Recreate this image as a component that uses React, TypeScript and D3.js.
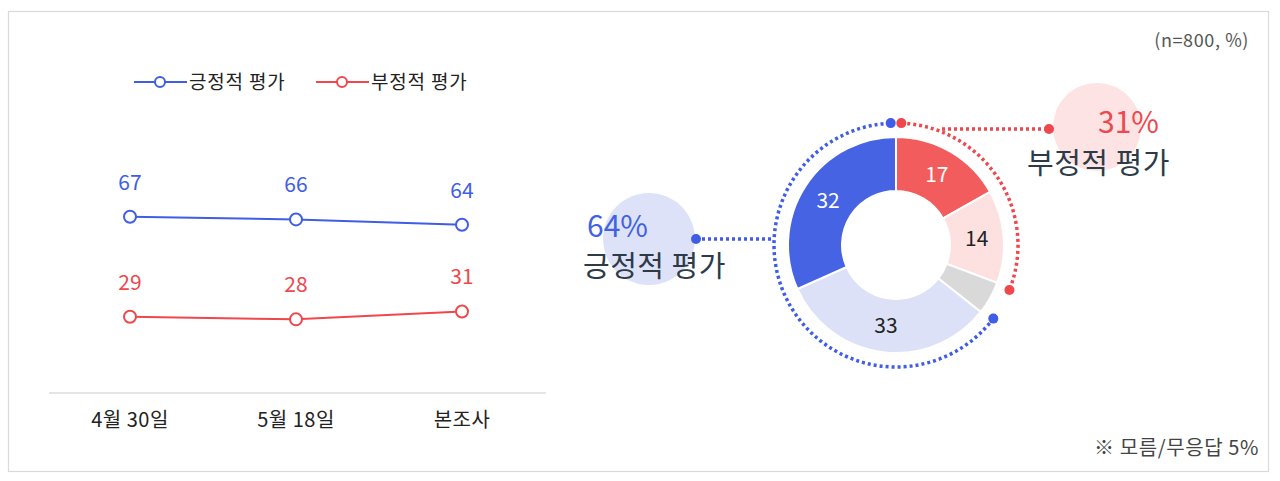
import React from "react";
import * as d3 from "d3";

// line chart data
const periods = ["4월 30일", "5월 18일", "본조사"];
const positive = [67, 66, 64];
const negative = [29, 28, 31];

// donut data (본조사 breakdown)
const donutLabels = ["매우 부정", "다소 부정", "모름/무응답", "다소 긍정", "매우 긍정"];
const donutValues = [17, 14, 5, 33, 32];
const donutShown = [true, true, false, true, true];

const posTotal = 64;
const negTotal = 31;
const unknownTotal = 5;

const BLUE = "#3f5de6";
const RED = "#f0474c";
const donutColors = ["#f35c5c", "#fde1e1", "#d9d9d9", "#dce1f8", "#4563e3"];
const donutTextColors = ["#fff", "#222", "#222", "#222", "#fff"];
const FONT = "'Noto Sans CJK KR', 'Noto Sans', sans-serif";

export default function App() {
  const x = d3.scalePoint<string>().domain(periods).range([130, 462]);
  const y = d3.scaleLinear().domain([0, 100]).range([393, 130]);

  const line = d3
    .line<number>()
    .x((_, i) => x(periods[i])!)
    .y((d) => y(d));

  const series = [
    { name: "긍정적 평가", values: positive, color: BLUE },
    { name: "부정적 평가", values: negative, color: RED },
  ];

  // donut
  const cx = 896;
  const cy = 245;
  const pie = d3.pie<number>().sort(null).value((d) => d);
  const arcs = pie(donutValues);
  const arc = d3.arc<d3.PieArcDatum<number>>().innerRadius(54).outerRadius(108);

  const ringR = 122;
  const deg = Math.PI / 180;
  const gap = 2.5 * deg;
  const redA0 = gap;
  const redA1 = (negTotal / 100) * 2 * Math.PI;
  const blueA0 = ((100 - posTotal) / 100) * 2 * Math.PI - gap;
  const blueA1 = 2 * Math.PI - gap;

  const ringPath = (a0: number, a1: number) => {
    const p = d3.path();
    p.arc(cx, cy, ringR, a0 - Math.PI / 2, a1 - Math.PI / 2, false);
    return p.toString();
  };
  const pt = (a: number) => [cx + ringR * Math.sin(a), cy - ringR * Math.cos(a)];

  const dotted = { fill: "none", strokeWidth: 3.5, strokeDasharray: "3 3" };

  return (
    <div style={{ position: "absolute", left: 0, top: 0 }}>
      <svg width={1280} height={481} style={{ display: "block", fontFamily: FONT }}>
        <rect x={8.5} y={11.5} width={1260} height={460} fill="#fff" stroke="#dadada" strokeWidth={1.2} />

        {/* legend */}
        {series.map((s, i) => {
          const lx = 134 + i * 182;
          return (
            <g key={s.name}>
              <line x1={lx} x2={lx + 53} y1={82} y2={82} stroke={s.color} strokeWidth={2} />
              <circle cx={lx + 26} cy={82} r={5} fill="#fff" stroke={s.color} strokeWidth={2} />
              <text x={lx + 55} y={89} fontSize={19} fill="#222" letterSpacing={0.8}>
                {s.name}
              </text>
            </g>
          );
        })}

        {/* baseline + categories */}
        <line x1={49} x2={546} y1={y(0)} y2={y(0)} stroke="#dcdcdc" strokeWidth={1.5} />
        {periods.map((p) => (
          <text key={p} x={x(p)} y={427} textAnchor="middle" fontSize={20} fill="#222" letterSpacing={0.5}>
            {p}
          </text>
        ))}

        {/* lines */}
        {series.map((s) => (
          <g key={s.name}>
            <path d={line(s.values)!} fill="none" stroke={s.color} strokeWidth={2} />
            {s.values.map((v, i) => (
              <g key={i}>
                <circle cx={x(periods[i])} cy={y(v)} r={6} fill="#fff" stroke={s.color} strokeWidth={2} />
                <text x={x(periods[i])} y={y(v) - 27} textAnchor="middle" fontSize={21} fill={s.color}>
                  {v}
                </text>
              </g>
            ))}
          </g>
        ))}

        {/* bubbles */}
        <circle cx={649} cy={239} r={46} fill="#dde2f8" />
        <circle cx={1097} cy={127} r={44} fill="#fde3e3" />

        {/* donut */}
        <g transform={`translate(${cx},${cy})`}>
          {arcs.map((a, i) => (
            <path key={donutLabels[i]} d={arc(a)!} fill={donutColors[i]} stroke="#fff" strokeWidth={2} />
          ))}
          {arcs.map((a, i) => {
            if (!donutShown[i]) return null;
            const [tx, ty] = arc.centroid(a);
            return (
              <text key={i} x={tx} y={ty} dy="0.35em" textAnchor="middle" fontSize={21} fill={donutTextColors[i]}>
                {a.data}
              </text>
            );
          })}
        </g>

        {/* dotted rings */}
        <path d={ringPath(redA0, redA1)} stroke={RED} {...dotted} />
        <path d={ringPath(blueA0, blueA1)} stroke={BLUE} {...dotted} />
        {[redA0, redA1].map((a, i) => (
          <circle key={"r" + i} cx={pt(a)[0]} cy={pt(a)[1]} r={5} fill={RED} />
        ))}
        {[blueA0, blueA1].map((a, i) => (
          <circle key={"b" + i} cx={pt(a)[0]} cy={pt(a)[1]} r={5} fill={BLUE} />
        ))}

        {/* connectors */}
        <line x1={942} x2={1049} y1={129} y2={129} stroke={RED} {...dotted} />
        <circle cx={1049} cy={129} r={5} fill={RED} />
        <line x1={696} x2={774} y1={239} y2={239} stroke={BLUE} {...dotted} />
        <circle cx={696} cy={239} r={5} fill={BLUE} />

        {/* annotations */}
        <text x={587} y={237} fontSize={30} fill="#4262e3">
          {posTotal}%
        </text>
        <text x={583} y={277} fontSize={29} fill="#2d3a48" letterSpacing={0.5}>
          긍정적 평가
        </text>
        <text x={1098} y={133} fontSize={30} fill={RED}>
          {negTotal}%
        </text>
        <text x={1027} y={174} fontSize={29} fill="#2d3a48" letterSpacing={0.5}>
          부정적 평가
        </text>

        <text x={1249} y={47} textAnchor="end" fontSize={18} fill="#555" letterSpacing={0.6}>
          (n=800, %)
        </text>
        <text x={1259} y={455} textAnchor="end" fontSize={20} fill="#444" letterSpacing={0.6}>
          ※ 모름/무응답 {unknownTotal}%
        </text>
      </svg>
    </div>
  );
}
